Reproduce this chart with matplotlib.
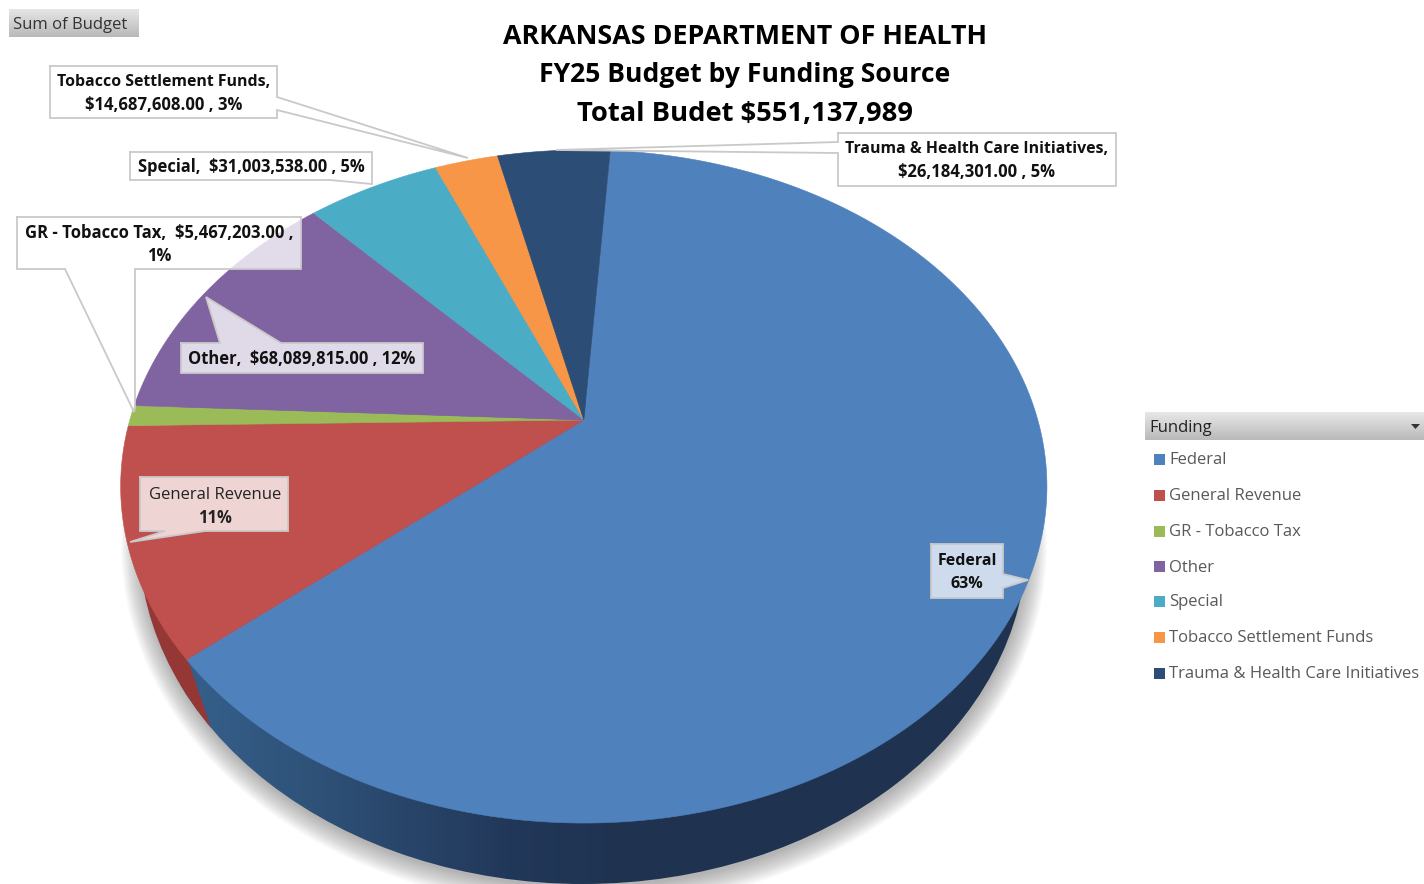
import numpy as np
import matplotlib
matplotlib.use("Agg")
import matplotlib.pyplot as plt
from matplotlib.patches import Polygon, Rectangle, Ellipse
from matplotlib.colors import LinearSegmentedColormap

# ---------- data ----------
categories = ["Federal", "General Revenue", "GR - Tobacco Tax", "Other", "Special",
              "Tobacco Settlement Funds", "Trauma & Health Care Initiatives"]
budget = [345600000, 60105524, 5467203, 68089815, 31003538, 14687608, 26184301]
colors = ["#4f81bd", "#c0504d", "#9bbb59", "#8064a2", "#4bacc6", "#f79646", "#2c4d75"]
title_lines = ["ARKANSAS DEPARTMENT OF HEALTH", "FY25 Budget by Funding Source", "Total Budet $551,137,989"]

FONT = "Open Sans"
plt.rcParams["font.family"] = [FONT, "DejaVu Sans"]

fig = plt.figure(figsize=(14.24, 8.84), dpi=100)
ax = fig.add_axes([0, 0, 1, 1])
ax.set_axis_off()


def grad(x0, y0, x1, y1, stops, horizontal=False, z=1, clip=None):
    cm = LinearSegmentedColormap.from_list("g", stops)
    a = np.linspace(0, 1, 256)
    a = a.reshape(1, -1) if horizontal else a.reshape(-1, 1)
    im = ax.imshow(a, cmap=cm, extent=(x0, x1, y1, y0), aspect="auto", zorder=z, interpolation="bilinear")
    if clip is not None:
        im.set_clip_path(clip)
    return im


# ---------- pie geometry: perspective view of a disc ----------
CX, CY, RX, RY, K = 583.8, 420.0, 454.0, 323.4, -0.1976
START_DEG = 4.0


def project(theta_deg):
    t = np.radians(theta_deg)
    u, v = np.sin(t), -np.cos(t)
    w = 1 + K * v
    return CX + RX * u / w, CY + RY * v / w


# soft shadow under the pie
n = 22
for i in range(n):
    f = i / (n - 1)
    ax.add_patch(Ellipse((584, 545), 2 * (463 - 20 * f), 2 * (364 - 22 * f),
                         fc="#6e6e6e", ec="none", alpha=0.027, zorder=2))

# side wall
wall = Ellipse((583, 540), 888, 688, fc="none", ec="none", zorder=3)
ax.add_patch(wall)
grad(180, 400, 1040, 884,
     [(0, "#35608c"), (0.15, "#2f5278"), (0.38, "#22385a"), (0.52, "#1f3350"), (1, "#1f3350")],
     horizontal=True, z=3, clip=wall)
red_wall = Polygon([(100, 480), (188, 660), (211, 728), (100, 728)], fc="#953735", ec="none", zorder=3.2)
ax.add_patch(red_wall)
red_wall.set_clip_path(wall)

# top face
total = sum(budget)
angle = START_DEG
for value, col in zip(budget, colors):
    sweep = 360.0 * value / total
    th = np.linspace(angle, angle + sweep, max(int(sweep * 2), 4))
    xs, ys = project(th)
    pts = np.column_stack([np.r_[CX, xs], np.r_[CY, ys]])
    ax.add_patch(Polygon(pts, closed=True, fc=col, ec=col, lw=0.4, zorder=4))
    angle += sweep

EDGE = "#c9c9c9"


def callout(poly, fc="white", alpha=1.0, z=6):
    ax.add_patch(Polygon(poly, closed=True, fc=fc, alpha=alpha, ec="none", zorder=z))
    xs = [p[0] for p in poly] + [poly[0][0]]
    ys = [p[1] for p in poly] + [poly[0][1]]
    ax.plot(xs, ys, color=EDGE, lw=1.3, zorder=z + 0.1, solid_joinstyle="miter")


def label(xc, yc, lines, sizes, weights=None, color="#111111", z=7):
    dy = 23
    y0 = yc - dy * (len(lines) - 1) / 2 + 1.5
    for i, s in enumerate(lines):
        w = "bold" if weights is None else weights[i]
        ax.text(xc, y0 + i * dy, s, ha="center", va="center", fontsize=sizes[i], fontweight=w, color=color, zorder=z)


# Tobacco Settlement
callout([(50, 66), (277, 66), (277, 97), (468, 158), (277, 110), (277, 118), (50, 118)])
label(163.5, 92, ["Tobacco Settlement Funds,", "$14,687,608.00 , 3%"], [11.4, 12])
# Special
callout([(130, 152), (372, 152), (372, 184), (330, 180), (130, 180)])
label(251, 166, ["Special,  $31,003,538.00 , 5%"], [11.9])
# GR Tobacco Tax
callout([(17, 217), (301, 217), (301, 269), (135, 269), (135, 408), (134, 412), (65, 269), (17, 269)],
        fc="white", alpha=0.78)
label(159, 243, ["GR - Tobacco Tax,  $5,467,203.00 ,", "1%"], [12, 12])
# Other
callout([(181, 343), (220, 343), (206, 297), (281, 343), (423, 343), (423, 373), (181, 373)],
        fc="white", alpha=0.76)
label(302, 358, ["Other,  $68,089,815.00 , 12%"], [11.9])
# General Revenue
callout([(140, 477), (288, 477), (288, 531), (205, 531), (130, 542), (165, 531), (140, 531)],
        fc="white", alpha=0.76)
label(215, 505, ["General Revenue", "11%"], [12, 12], weights=["normal", "bold"], color="#222222")
# Federal
callout([(931, 544), (1003, 544), (1003, 574), (1028, 580), (1003, 588), (1003, 598), (931, 598)],
        fc="white", alpha=0.72)
label(967, 571, ["Federal", "63%"], [11.5, 11.5])
# Trauma
callout([(838, 133), (1116, 133), (1116, 186), (838, 186), (838, 153), (556, 150), (838, 142)])
label(977, 159, ["Trauma & Health Care Initiatives,", "$26,184,301.00 , 5%"], [11.4, 12])

# Title
for s, y, fs in zip(title_lines, [37, 75, 114], [19.4, 19.1, 19.7]):
    ax.text(745, y, s, ha="center", va="center", fontsize=fs, fontweight="bold", color="#000000", zorder=8)

# Field buttons
grad(9, 9, 139, 37, ["#e6e6e6", "#b9b9b9"], z=5)
ax.text(13, 25, "Sum of Budget", ha="left", va="center", fontsize=12, color="#333333", zorder=6)
grad(1145, 412, 1424, 440, ["#e8e8e8", "#b9b9b9"], z=5)
ax.text(1149, 427.5, "Funding", ha="left", va="center", fontsize=12, color="#222222", zorder=6)
ax.add_patch(Polygon([(1411, 424), (1420, 424), (1415.5, 429)], closed=True, fc="#333333", ec="none", zorder=6))

# Legend
legend_y = [459, 495, 531, 566, 601, 637, 673]
for name, col, y in zip(categories, colors, legend_y):
    ax.add_patch(Rectangle((1154, y - 5.5), 11, 11, fc=col, ec="none", zorder=5))
    ax.text(1169, y + 1.5, name, ha="left", va="center", fontsize=12, color="#595959", zorder=6)

ax.set_xlim(0, 1424)
ax.set_ylim(884, 0)
fig.savefig("out.png", dpi=100, facecolor="white")
